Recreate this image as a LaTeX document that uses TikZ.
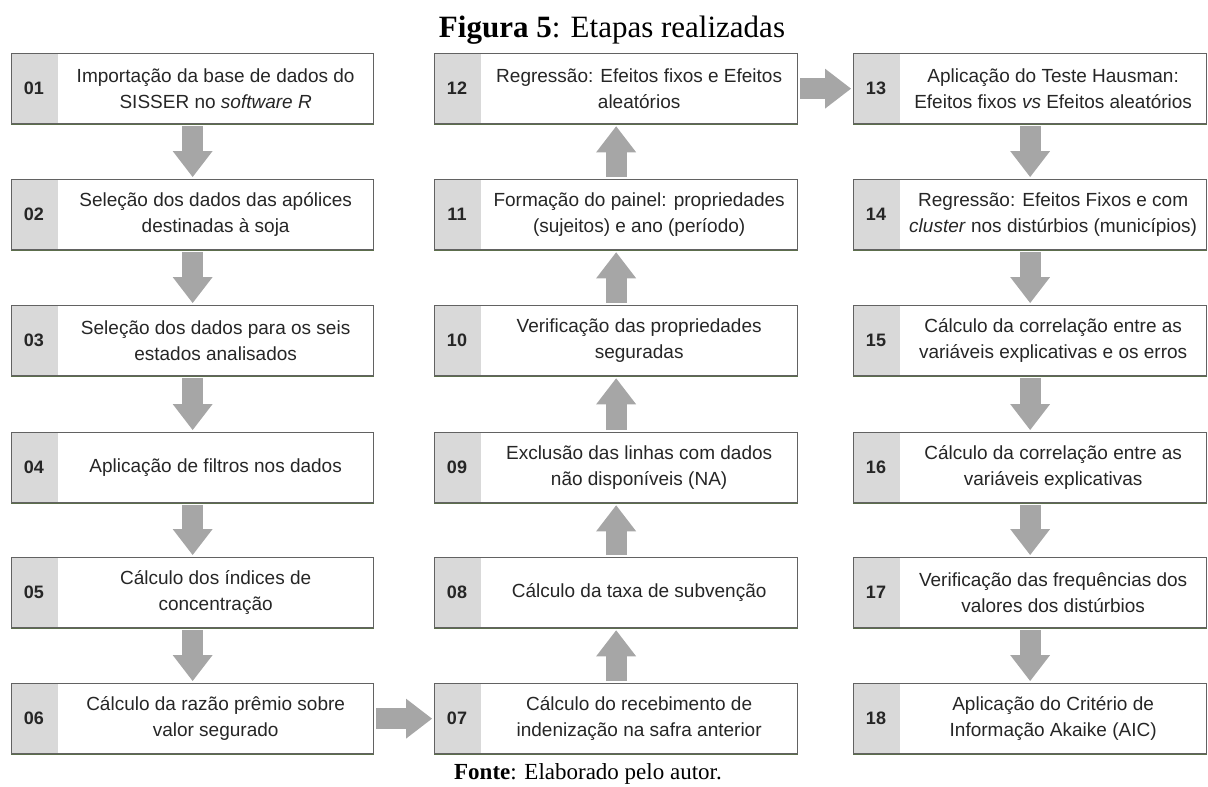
\documentclass[tikz,border=0pt]{standalone}
\usepackage{fontspec}
\setmainfont{Liberation Serif}
\newfontfamily\arialf{Liberation Sans}
\usetikzlibrary{arrows.meta}
\definecolor{cellgray}{HTML}{D9D9D9}
\definecolor{arrowgray}{HTML}{A6A6A6}
\definecolor{boxline}{HTML}{626262}
\definecolor{bottomline}{HTML}{5C6E4C}
\tikzset{
  stepbox/.style={rectangle, draw=boxline, line width=1.3pt, fill=white,
    minimum height=70pt, anchor=north west, inner sep=0pt,
    path picture={\fill[cellgray] (path picture bounding box.north west) rectangle ([xshift=46pt]path picture bounding box.south west);}},
  numtext/.style={font=\arialf\bfseries\fontsize{18}{22}\selectfont, text=black!85},
  steptext/.style={font=\arialf\fontsize{19}{26}\selectfont, align=center, text=black!85, inner sep=0pt},
  bigarrow/.style={draw=arrowgray, line width=21pt, shorten <=2pt, shorten >=2pt,
    -{Triangle[length=26pt, width=40pt, line width=0pt]}},
}
\newcommand\mkstep[6]{% name, left x, top y, width, number, text
  \node[stepbox, minimum width=#4pt] (#1) at (#2,#3) {};
  \draw[bottomline, line width=1.3pt] (#1.south west) -- (#1.south east);
  \node[numtext] (#1n) at ([xshift=23pt]#1.west) {#5};
  \node[steptext] (#1t) at ([xshift=23pt]#1.center) {#6};
}
\begin{document}
\begin{tikzpicture}[x=1pt, y=-1pt]
\useasboundingbox (0,0) rectangle (1208,787);
\node[anchor=base] (title) at (612,37) {\fontsize{31}{36}\selectfont\textbf{Figura 5}: Etapas realizadas};
\node[anchor=base] (fonte) at (588,779) {\fontsize{23}{27}\selectfont\textbf{Fonte}: Elaborado pelo autor.};
% column 1
\mkstep{b01}{11}{53}{362}{01}{Importação da base de dados do\\SISSER no \textit{software  R}}
\mkstep{b02}{11}{179}{362}{02}{Seleção dos dados das apólices\\destinadas à soja}
\mkstep{b03}{11}{305}{362}{03}{Seleção dos dados para os seis\\estados analisados}
\mkstep{b04}{11}{432}{362}{04}{Aplicação de filtros nos dados}
\mkstep{b05}{11}{557}{362}{05}{Cálculo dos índices de\\concentração}
\mkstep{b06}{11}{683}{362}{06}{Cálculo da razão prêmio sobre\\valor segurado}
% column 2
\mkstep{b07}{434}{683}{363}{07}{Cálculo do recebimento de\\indenização na safra anterior}
\mkstep{b08}{434}{557}{363}{08}{Cálculo da taxa de subvenção}
\mkstep{b09}{434}{432}{363}{09}{Exclusão das linhas com dados\\não disponíveis (NA)}
\mkstep{b10}{434}{305}{363}{10}{Verificação das propriedades\\seguradas}
\mkstep{b11}{434}{179}{363}{11}{Formação do painel: propriedades\\(sujeitos) e ano (período)}
\mkstep{b12}{434}{53}{363}{12}{Regressão: Efeitos fixos e Efeitos\\aleatórios}
% column 3
\mkstep{b13}{853}{53}{353}{13}{Aplicação do Teste Hausman:\\Efeitos fixos \textit{vs} Efeitos aleatórios}
\mkstep{b14}{853}{179}{353}{14}{Regressão: Efeitos Fixos e com\\\textit{cluster} nos distúrbios (municípios)}
\mkstep{b15}{853}{305}{353}{15}{Cálculo da correlação entre as\\variáveis explicativas e os erros}
\mkstep{b16}{853}{432}{353}{16}{Cálculo da correlação entre as\\variáveis explicativas}
\mkstep{b17}{853}{557}{353}{17}{Verificação das frequências dos\\valores dos distúrbios}
\mkstep{b18}{853}{683}{353}{18}{Aplicação do Critério de\\Informação Akaike (AIC)}
% arrows
\draw[bigarrow] (b01) -- (b02);
\draw[bigarrow] (b02) -- (b03);
\draw[bigarrow] (b03) -- (b04);
\draw[bigarrow] (b04) -- (b05);
\draw[bigarrow] (b05) -- (b06);
\draw[bigarrow] (b06) -- (b07);
\draw[bigarrow] (b07) -- (b08);
\draw[bigarrow] (b08) -- (b09);
\draw[bigarrow] (b09) -- (b10);
\draw[bigarrow] (b10) -- (b11);
\draw[bigarrow] (b11) -- (b12);
\draw[bigarrow] (b12) -- (b13);
\draw[bigarrow] (b13) -- (b14);
\draw[bigarrow] (b14) -- (b15);
\draw[bigarrow] (b15) -- (b16);
\draw[bigarrow] (b16) -- (b17);
\draw[bigarrow] (b17) -- (b18);
\end{tikzpicture}
\end{document}
